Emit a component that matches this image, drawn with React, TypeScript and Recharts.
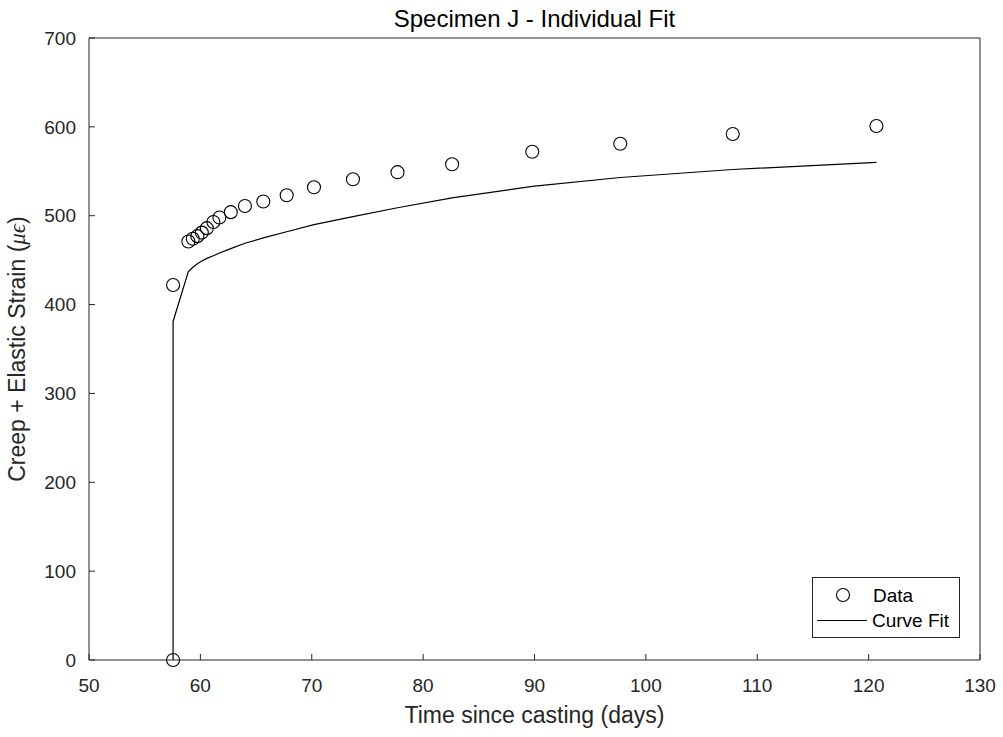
import React from "react";
import { ScatterChart, Scatter, XAxis, YAxis, Legend } from "recharts";

// ---- data ----
const dataDays = [57.55, 57.55, 58.92, 59.32, 59.73, 60.13, 60.58, 61.17, 61.71, 62.73, 64.0, 65.65, 67.75, 70.2, 73.7, 77.7, 82.6, 89.8, 97.7, 107.8, 120.7];
const dataStrain = [0, 422, 471, 474, 477, 481, 486, 493, 498, 504, 511, 516, 523, 532, 541, 549, 558, 572, 581, 592, 601];
const fitStrain = [0, 381, 437, 442, 446, 449, 452, 455, 458, 463, 469, 475, 482, 490, 499, 509, 520, 533, 543, 552, 560];
const xTicks = [50, 60, 70, 80, 90, 100, 110, 120, 130];
const yTicks = [0, 100, 200, 300, 400, 500, 600, 700];
const seriesNames = ["Data", "Curve Fit"];
const titleText = "Specimen J - Individual Fit";
const xLabelText = "Time since casting (days)";

const pointData = dataDays.map((x, i) => ({ x, y: dataStrain[i] }));
const fitData = dataDays.map((x, i) => ({ x, y: fitStrain[i] }));

// ---- layout (svg covers the whole page) ----
const W = 1003;
const H = 737;
const PLOT = { left: 89, top: 38, right: 980, bottom: 660 };
const AXW = { left: 60, right: 15, top: 30, bottom: 30 };
const M = {
  top: PLOT.top - AXW.top,
  right: W - PLOT.right - AXW.right,
  bottom: H - PLOT.bottom - AXW.bottom,
  left: PLOT.left - AXW.left,
};
const AX = "#262626";
const FONT = "'Liberation Sans', Arial, Helvetica, sans-serif";
const tickStyle = { fill: AX, fontSize: 19, fontFamily: FONT };

const CircleShape = (props: any) => {
  const { cx, cy } = props;
  if (cx == null || cy == null) return <g />;
  return <circle cx={cx} cy={cy} r={6.5} fill="none" stroke="#000" strokeWidth={1.1} />;
};
const NoShape = () => <g />;

const XLabel = () => (
  <text x={(PLOT.left + PLOT.right) / 2} y={PLOT.bottom + 63} textAnchor="middle" fill={AX} fontSize={23} fontFamily={FONT}>
    {xLabelText}
  </text>
);
const TitleLabel = () => (
  <text x={(PLOT.left + PLOT.right) / 2} y={27} textAnchor="middle" fill="#000" fontSize={24} fontFamily={FONT}>
    {titleText}
  </text>
);
const YLabel = () => {
  const cx = 25;
  const cy = (PLOT.top + PLOT.bottom) / 2;
  return (
    <text x={cx} y={cy} textAnchor="middle" fill={AX} fontSize={23} fontFamily={FONT} transform={`rotate(-90 ${cx} ${cy})`}>
      Creep + Elastic Strain (
      <tspan fontStyle="italic" fontFamily="'Liberation Serif', 'DejaVu Serif', serif">μϵ</tspan>)
    </text>
  );
};

const LegendBox = () => (
  <svg width={149} height={62} style={{ display: "block" }}>
    <rect x={0.5} y={0.5} width={147} height={60} fill="#fff" stroke={AX} strokeWidth={1} />
    <circle cx={31} cy={18} r={6.5} fill="none" stroke="#000" strokeWidth={1.1} />
    <text x={61} y={18} dy="0.35em" fontSize={19} fontFamily={FONT} fill="#000">{seriesNames[0]}</text>
    <line x1={5} x2={55} y1={43.5} y2={43.5} stroke="#000" strokeWidth={1.2} />
    <text x={60} y={43.5} dy="0.35em" fontSize={19} fontFamily={FONT} fill="#000">{seriesNames[1]}</text>
  </svg>
);

export default function App() {
  return (
    <div style={{ position: "absolute", left: 0, top: 0, width: W, height: H, background: "#fff" }}>
      <ScatterChart width={W} height={H} margin={M} style={{ background: "#fff" }}>
        <XAxis
          xAxisId="b"
          type="number"
          dataKey="x"
          orientation="bottom"
          domain={[50, 130]}
          ticks={xTicks}
          height={AXW.bottom}
          tickSize={-6}
          tickMargin={25}
          stroke={AX}
          tick={tickStyle}
          label={<XLabel />}
        />
        <XAxis
          xAxisId="t"
          type="number"
          orientation="top"
          domain={[50, 130]}
          ticks={xTicks}
          height={AXW.top}
          tickSize={-6}
          stroke={AX}
          tick={false}
          label={<TitleLabel />}
        />
        <YAxis
          yAxisId="l"
          type="number"
          dataKey="y"
          orientation="left"
          domain={[0, 700]}
          ticks={yTicks}
          width={AXW.left}
          tickSize={-6}
          tickMargin={19}
          stroke={AX}
          tick={tickStyle}
          label={<YLabel />}
        />
        <YAxis
          yAxisId="r"
          type="number"
          orientation="right"
          domain={[0, 700]}
          ticks={yTicks}
          width={AXW.right}
          tickSize={-6}
          stroke={AX}
          tick={false}
        />
        <Scatter
          name={seriesNames[1]}
          data={fitData}
          xAxisId="b"
          yAxisId="l"
          line={{ stroke: "#000", strokeWidth: 1.2 }}
          lineType="joint"
          shape={NoShape}
          legendType="line"
          isAnimationActive={false}
        />
        <Scatter
          name={seriesNames[0]}
          data={pointData}
          xAxisId="b"
          yAxisId="l"
          shape={CircleShape}
          legendType="circle"
          isAnimationActive={false}
        />
        <Legend
          layout="vertical"
          align="center"
          verticalAlign="middle"
          content={<LegendBox />}
          wrapperStyle={{ left: 812, top: 577, width: 149, height: 62 }}
        />
      </ScatterChart>
    </div>
  );
}
